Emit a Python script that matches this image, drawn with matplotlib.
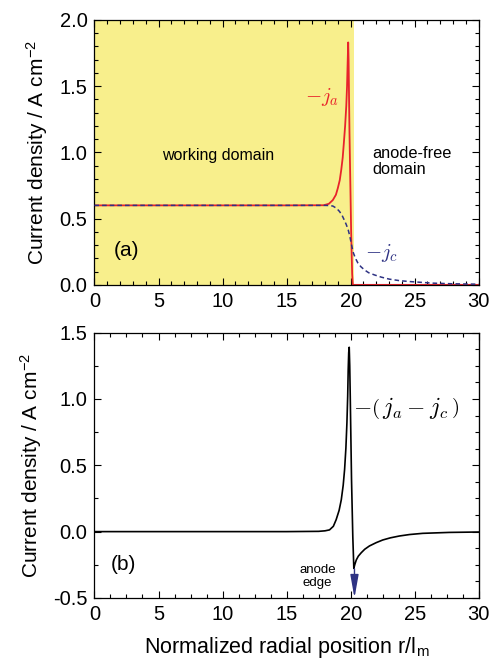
import matplotlib
matplotlib.use("Agg")
import matplotlib.pyplot as plt
from matplotlib.ticker import MultipleLocator, NullFormatter

plt.rcParams['font.family'] = ['Liberation Sans', 'DejaVu Sans']
plt.rcParams['mathtext.fontset'] = 'cm'
plt.rcParams['axes.unicode_minus'] = False

# Panel (a): anode and cathode current densities
r_a = [0, 5, 10, 15, 17.9, 18.3, 18.61, 18.85, 19.0, 19.15, 19.27, 19.38, 19.47, 19.57, 19.66,
       19.72, 19.76, 19.79, 19.81, 19.84, 19.91, 20.04, 20.12, 20.17, 20.3, 25, 30]
ja = [0.6, 0.6, 0.6, 0.6, 0.601, 0.612, 0.64, 0.68, 0.73, 0.79, 0.87, 0.96, 1.07, 1.2, 1.35,
      1.5, 1.65, 1.76, 1.83, 1.7, 1.15, 0.4, 0.08, 0.0, 0.0, 0.0, 0.0]

r_c = [0, 5, 10, 15, 17.9, 18.3, 18.61, 18.9, 19.14, 19.33, 19.5, 19.66, 19.81, 19.93, 20.04,
       20.13, 20.22, 20.38, 20.56, 20.8, 21.08, 21.4, 21.86, 22.4, 23.03, 23.8, 24.59, 26.4, 28, 30]
jc = [0.6, 0.6, 0.6, 0.6, 0.6, 0.599, 0.595, 0.578, 0.553, 0.525, 0.49, 0.455, 0.415, 0.37, 0.317,
      0.275, 0.24, 0.2, 0.166, 0.137, 0.113, 0.092, 0.075, 0.058, 0.043, 0.032, 0.025, 0.013, 0.008, 0.005]

# Panel (b): difference current density
r_d = [0, 5, 10, 15, 17.5, 18.0, 18.35, 18.65, 18.87, 19.1, 19.27, 19.42, 19.53, 19.63, 19.71,
       19.77, 19.81, 19.85, 19.89, 19.93, 19.97, 20.07, 20.17, 20.25, 20.32, 20.44, 20.6, 20.83,
       21.1, 21.47, 22.0, 22.51, 23.1, 23.81, 24.6, 25.63, 27.7, 30]
jd = [0.0, 0.0, 0.0, 0.0, 0.002, 0.006, 0.013, 0.04, 0.09, 0.16, 0.24, 0.35, 0.47, 0.63, 0.82,
      1.02, 1.22, 1.35, 1.39, 1.25, 1.02, 0.39, -0.04, -0.277, -0.25, -0.214, -0.185, -0.159,
      -0.133, -0.108, -0.083, -0.063, -0.047, -0.033, -0.022, -0.013, -0.006, -0.003]

anode_edge = 20.3
yellow = '#F8EF8C'
red = '#E8232B'
navy = '#2E3283'

fig = plt.figure(figsize=(4.92, 6.64), dpi=100)
ax1 = fig.add_axes([0.192, 0.571, 0.781, 0.399])
ax2 = fig.add_axes([0.192, 0.0995, 0.781, 0.3995])


def style(ax, xminor, yminor):
    ax.set_xlim(0, 30)
    ax.xaxis.set_major_locator(MultipleLocator(5))
    ax.xaxis.set_minor_locator(MultipleLocator(xminor))
    ax.yaxis.set_minor_locator(MultipleLocator(yminor))
    ax.tick_params(which='both', direction='in', top=True, right=True, labelsize=14.5, width=0.8)
    ax.tick_params(which='major', length=5, pad=5)
    ax.tick_params(which='minor', length=3)
    for s in ax.spines.values():
        s.set_linewidth(0.9)
    ax.set_ylabel('Current density / A cm$^{\\mathregular{-2}}$', fontsize=15, labelpad=6)


# top panel
ax1.axvspan(0, anode_edge, color=yellow, lw=0, zorder=0)
ax1.plot(r_c, jc, color=navy, lw=1.1, ls=(0, (3, 2)), zorder=3)
ax1.plot(r_a, ja, color=red, lw=1.3, zorder=2)
ax1.set_ylim(0, 2.0)
ax1.yaxis.set_major_locator(MultipleLocator(0.5))
ax1.yaxis.set_major_formatter(plt.FormatStrFormatter('%.1f'))
style(ax1, 1, 0.1)
ax1.text(9.66, 0.98, 'working domain', fontsize=11.5, ha='center', va='center')
ax1.text(21.7, 0.93, 'anode-free\ndomain', fontsize=11.8, ha='left', va='center', linespacing=1.1)
ax1.text(2.5, 0.26, '(a)', fontsize=15, ha='center', va='center')
ax1.text(17.8, 1.42, '$-j_a$', fontsize=15, color=red, ha='center', va='center')
ax1.text(22.4, 0.24, '$-j_c$', fontsize=15, color=navy, ha='center', va='center')

# bottom panel
ax2.plot(r_d, jd, color='black', lw=1.2)
ax2.set_ylim(-0.5, 1.5)
ax2.yaxis.set_major_locator(MultipleLocator(0.5))
ax2.yaxis.set_major_formatter(plt.FormatStrFormatter('%.1f'))
style(ax2, 1.25, 0.25)
ax2.tick_params(axis='y', which='both', right=False)
sec = ax2.secondary_yaxis('right')
sec.yaxis.set_major_locator(MultipleLocator(0.5))
sec.yaxis.set_minor_locator(MultipleLocator(0.125))
sec.yaxis.set_major_formatter(NullFormatter())
sec.tick_params(which='both', direction='in', width=0.8)
sec.tick_params(which='major', length=5)
sec.tick_params(which='minor', length=3)
ax2.annotate('', xy=(anode_edge, -0.5), xytext=(anode_edge, -0.28),
             arrowprops=dict(arrowstyle='-|>,head_length=1.4,head_width=0.25', color=navy,
                             lw=1.0, mutation_scale=10, shrinkA=0, shrinkB=0))
ax2.text(17.4, -0.34, 'anode\nedge', fontsize=9.5, ha='center', va='center', linespacing=1.05)
ax2.text(2.26, -0.25, '(b)', fontsize=15, ha='center', va='center')
ax2.text(24.3, 0.93, '$-\\left(\\,j_a - j_c\\,\\right)$', fontsize=17, ha='center', va='center')
ax2.set_xlabel('Normalized radial position r/l$_{\\mathregular{m}}$', fontsize=15.5, labelpad=8)

fig.savefig('out.png', dpi=100)
